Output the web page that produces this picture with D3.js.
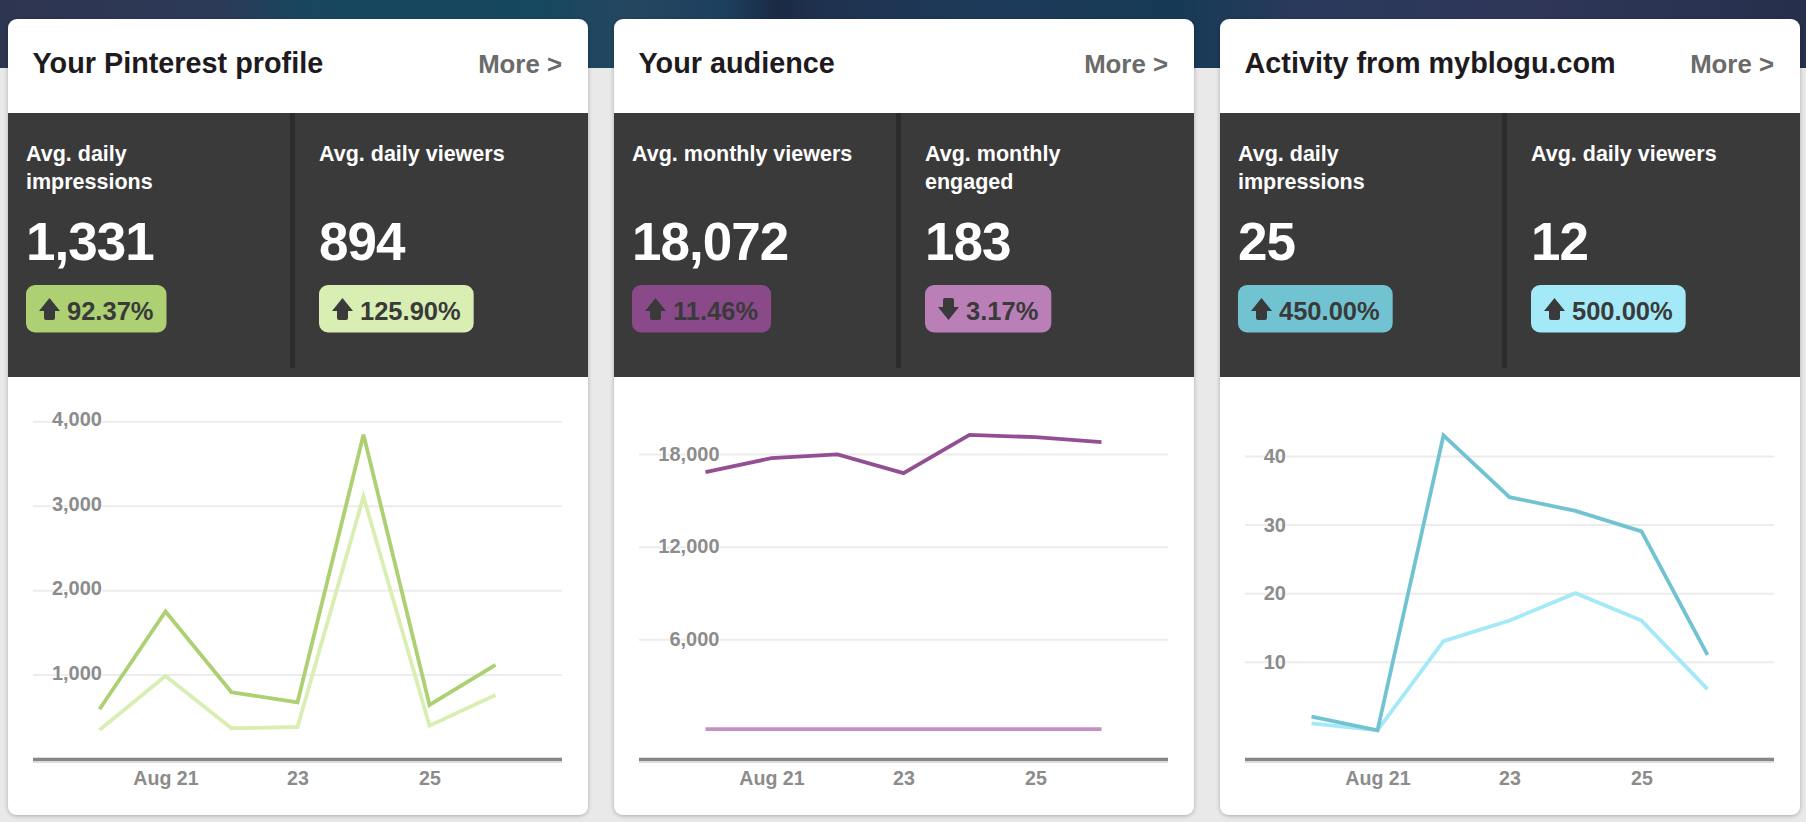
<!DOCTYPE html>
<html>
<head>
<meta charset="utf-8">
<script src="https://d3js.org/d3.v7.min.js"></script>
<style>
  body { margin: 0; background: #e9e9e9; }
  svg { display: block; font-family: "Liberation Sans", Arial, sans-serif; }
</style>
</head>
<body>
<svg id="page"></svg>
<script>
const width = 1806;
const height = 822;

// data
const days = [20, 21, 22, 23, 24, 25, 26];
const dayTicks = [21, 23, 25];

const profileImpressions = [590, 1747, 790, 672, 3842, 640, 1115];
const profileViewers = [344, 984, 364, 379, 3110, 395, 759];
const audienceViewers = [16825, 17730, 17970, 16760, 19240, 19090, 18770];
const audienceEngaged = [183, 183, 183, 183, 183, 183, 183];
const blogImpressions = [2, 0, 43, 34, 32, 29, 11];
const blogViewers = [1, 0, 13, 16, 20, 16, 6];

const profileTicks = [1000, 2000, 3000, 4000];
const audienceTicks = [6000, 12000, 18000];
const blogTicks = [10, 20, 30, 40];

const titles = ['Your Pinterest profile', 'Your audience', 'Activity from myblogu.com'];
const statLabels = [
  [['Avg. daily', 'impressions'], ['Avg. daily viewers']],
  [['Avg. monthly viewers'], ['Avg. monthly', 'engaged']],
  [['Avg. daily', 'impressions'], ['Avg. daily viewers']]
];
const statValues = [['1,331', '894'], ['18,072', '183'], ['25', '12']];
const statChanges = [['92.37%', '125.90%'], ['11.46%', '3.17%'], ['450.00%', '500.00%']];
const statDirections = [['up', 'up'], ['up', 'down'], ['up', 'up']];
const darkColors = ['#acd072', '#8a4a8a', '#72c3d2'];
const lightColors = ['#d9eeb2', '#b97fb6', '#a3e9f7'];
const lineDark = ['#acd072', '#924f92', '#72c3d2'];
const lineLight = ['#d9eeb2', '#c690c4', '#a3e9f7'];

// labelRight / labelLift: where the y labels end and how far they ride above their grid line
const charts = [
  {dark: profileImpressions, light: profileViewers, ticks: profileTicks, max: 4000, top: 421.3, zero: 759, labelRight: 94, labelLift: 2.7},
  {dark: audienceViewers, light: audienceEngaged, ticks: audienceTicks, max: 18000, top: 454, zero: 732, labelRight: 105.5, labelLift: 1},
  {dark: blogImpressions, light: blogViewers, ticks: blogTicks, max: 40, top: 456, zero: 730.3, labelRight: 66, labelLift: 0.5}
];

// card geometry
const cardX = [8, 614, 1220];
const cardW = 580;
const cardTop = 19;
const cardBottom = 815;
const panelTop = 113;
const panelBottom = 377;
const gridLeft = 25;
const gridRight = 554;
const baseY = 760;

const svg = d3.select('#page').attr('width', width).attr('height', height);
const defs = svg.append('defs');

// night sky strip behind the cards
const sky = defs.append('linearGradient').attr('id', 'sky');
[[0, '#2e3550'], [0.12, '#2c3a58'], [0.17, '#18475f'], [0.3, '#164860'], [0.35, '#25465f'],
 [0.4, '#1e4060'], [0.43, '#1a2a45'], [0.46, '#1f3350'], [0.55, '#1d3a5a'], [0.65, '#163a56'],
 [0.72, '#2a3a5c'], [0.85, '#2f3658'], [1, '#26304c']].forEach(s => {
  sky.append('stop').attr('offset', s[0]).attr('stop-color', s[1]);
});
svg.append('rect').attr('width', width).attr('height', 68).attr('fill', 'url(#sky)');

const shadow = defs.append('filter').attr('id', 'shadow')
  .attr('x', '-3%').attr('y', '-3%').attr('width', '106%').attr('height', '106%');
shadow.append('feDropShadow').attr('dx', 0).attr('dy', 1).attr('stdDeviation', 2)
  .attr('flood-color', '#000').attr('flood-opacity', 0.28);

// house shaped arrow, drawn around its own centre
function arrowPath() {
  const p = d3.path();
  p.moveTo(0, -11);
  p.lineTo(10.5, 2);
  p.lineTo(5.5, 2);
  p.lineTo(5.5, 9);
  p.quadraticCurveTo(5.5, 11, 3.5, 11);
  p.lineTo(-3.5, 11);
  p.quadraticCurveTo(-5.5, 11, -5.5, 9);
  p.lineTo(-5.5, 2);
  p.lineTo(-10.5, 2);
  p.closePath();
  return p.toString();
}

function drawStat(g, c, col, x) {
  const s = g.append('g').attr('transform', `translate(${x},0)`);

  statLabels[c][col].forEach((line, i) => {
    s.append('text').attr('x', 0).attr('y', 161 + i * 27.5)
      .attr('fill', '#fff').attr('font-size', 21.5).attr('font-weight', 'bold')
      .text(line);
  });

  s.append('text').attr('x', 0).attr('y', 260)
    .attr('fill', '#fff').attr('font-size', 53).attr('font-weight', 'bold')
    .attr('letter-spacing', -1)
    .text(statValues[c][col]);

  const badge = s.append('rect').attr('x', 0).attr('y', 285).attr('height', 47.5).attr('rx', 9)
    .attr('fill', col === 0 ? darkColors[c] : lightColors[c]);
  const label = s.append('text').attr('x', 41).attr('y', 319.5)
    .attr('fill', '#3a3a3a').attr('font-size', 25.5).attr('font-weight', 'bold')
    .text(statChanges[c][col]);
  badge.attr('width', 41 + label.node().getComputedTextLength() + 13);

  const dir = statDirections[c][col];
  s.append('path').attr('d', arrowPath())
    .attr('transform', `translate(23.5,309)` + (dir === 'up' ? '' : ' scale(1,-1)'))
    .attr('fill', '#3a3a3a');
}

function drawCard(c) {
  const chart = charts[c];
  const g = svg.append('g').attr('transform', `translate(${cardX[c]},0)`);

  g.append('rect').attr('y', cardTop).attr('width', cardW).attr('height', cardBottom - cardTop)
    .attr('rx', 9).attr('fill', '#fff').attr('filter', 'url(#shadow)');

  g.append('text').attr('x', 24.5).attr('y', 73)
    .attr('fill', '#1e1a1e').attr('font-size', 28.8).attr('font-weight', 'bold')
    .text(titles[c]);
  g.append('text').attr('x', gridRight).attr('y', 72.5).attr('text-anchor', 'end')
    .attr('fill', '#6b6b6b').attr('font-size', 25.8).attr('font-weight', 'bold')
    .text('More >');

  g.append('rect').attr('y', panelTop).attr('width', cardW).attr('height', panelBottom - panelTop)
    .attr('fill', '#3a3a3a');
  g.append('rect').attr('x', 282).attr('y', panelTop).attr('width', 5).attr('height', 255)
    .attr('fill', '#2c2c2c');

  drawStat(g, c, 0, 18);
  drawStat(g, c, 1, 311);

  const x = d3.scaleLinear().domain([20, 26]).range([91.5, 487.5]);
  const y = d3.scaleLinear().domain([0, chart.max]).range([chart.zero, chart.top]);

  const yAxis = d3.axisLeft(y)
    .tickValues(chart.ticks)
    .tickSize(0)
    .tickPadding(0)
    .tickFormat(d3.format(','));
  const yG = g.append('g').attr('transform', `translate(${gridLeft},0)`).call(yAxis);
  yG.select('.domain').remove();
  yG.selectAll('.tick').append('line')
    .attr('x1', 0).attr('x2', gridRight - gridLeft)
    .attr('stroke', '#ececec').attr('stroke-width', 2);
  // labels sit on top of the grid line, just above it
  yG.selectAll('.tick text').raise()
    .attr('x', chart.labelRight - gridLeft).attr('dy', 7.2 - chart.labelLift)
    .attr('text-anchor', 'end')
    .attr('fill', '#8c8c8c').attr('font-size', 20).attr('font-weight', 'bold')
    .attr('font-family', '"Liberation Sans", Arial, sans-serif')
    .attr('paint-order', 'stroke').attr('stroke', '#fff').attr('stroke-width', 2);

  const xAxis = d3.axisBottom(x)
    .tickValues(dayTicks)
    .tickSize(0)
    .tickPadding(0)
    .tickFormat(d => d === dayTicks[0] ? 'Aug ' + d : d);
  const xG = g.append('g').attr('transform', `translate(0,${baseY})`).call(xAxis);
  xG.select('.domain').remove();
  xG.selectAll('text')
    .attr('y', 24.5).attr('dy', 0)
    .attr('fill', '#8c8c8c').attr('font-size', 19.6).attr('font-weight', 'bold')
    .attr('font-family', '"Liberation Sans", Arial, sans-serif');

  g.append('line').attr('x1', gridLeft).attr('x2', gridRight).attr('y1', baseY).attr('y2', baseY)
    .attr('stroke', '#dcdcdc').attr('stroke-width', 6);
  g.append('line').attr('x1', gridLeft).attr('x2', gridRight).attr('y1', baseY - 0.5).attr('y2', baseY - 0.5)
    .attr('stroke', '#868686').attr('stroke-width', 3);

  const line = d3.line().x((d, i) => x(days[i])).y(d => y(d));
  g.append('path').datum(chart.light).attr('d', line)
    .attr('fill', 'none').attr('stroke', lineLight[c]).attr('stroke-width', 3.8);
  g.append('path').datum(chart.dark).attr('d', line)
    .attr('fill', 'none').attr('stroke', lineDark[c]).attr('stroke-width', 3.8);
}

titles.forEach((t, c) => drawCard(c));
</script>
</body>
</html>
